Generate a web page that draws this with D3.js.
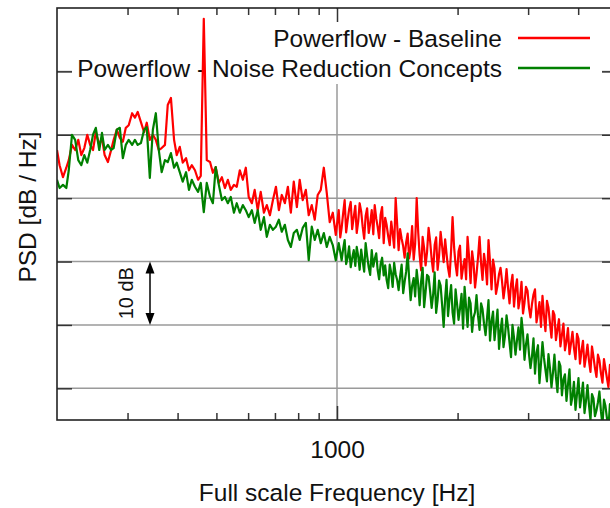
<!DOCTYPE html>
<html>
<head>
<meta charset="utf-8">
<script src="https://cdn.jsdelivr.net/npm/d3@7"></script>
<style>
  body { margin: 0; background: #fff; }
  svg { display: block; }
  text { font-family: "Liberation Sans", Arial, Helvetica, sans-serif; fill: #111; }
</style>
</head>
<body>
<svg id="chart" width="610" height="508"></svg>
<script>
// Spectrum frequencies [Hz]
const freqHz = [
  200, 203, 207, 211, 214, 218, 222, 226, 230, 234,
  238, 242, 246, 250, 255, 259, 263, 268, 273, 277,
  282, 287, 292, 297, 302, 308, 313, 318, 324, 330,
  335, 341, 347, 353, 359, 365, 372, 378, 385, 392,
  398, 405, 412, 420, 427, 434, 442, 450, 457, 465,
  473, 482, 490, 498, 507, 516, 525, 534, 543, 553,
  562, 572, 582, 592, 602, 613, 623, 634, 645, 657,
  668, 680, 692, 704, 716, 728, 741, 754, 767, 780,
  794, 807, 821, 836, 850, 865, 880, 895, 911, 927,
  943, 959, 976, 993,
  1010, 1019, 1027, 1036, 1045, 1054, 1063, 1072, 1082, 1091,
  1101, 1111, 1120, 1130, 1139, 1149, 1159, 1169, 1179, 1189,
  1200, 1210, 1221, 1232, 1242, 1253, 1263, 1274, 1285, 1296,
  1308, 1319, 1330, 1342, 1354, 1366, 1377, 1389, 1401, 1413,
  1425, 1437, 1450, 1463, 1475, 1488, 1501, 1514, 1527, 1540,
  1554, 1567, 1581, 1595, 1608, 1622, 1636, 1650, 1664, 1678,
  1693, 1708, 1723, 1738, 1753, 1768, 1783, 1798, 1814, 1830,
  1846, 1862, 1877, 1893, 1910, 1927, 1943, 1960, 1977, 1994,
  2011, 2028, 2046, 2064, 2082, 2100, 2118, 2136, 2155, 2174,
  2192, 2211, 2230, 2249, 2269, 2289, 2308, 2328, 2349, 2369,
  2389, 2410, 2431, 2452, 2473, 2494, 2516, 2538, 2560, 2582,
  2604, 2627, 2650, 2673, 2696, 2719, 2742, 2766, 2790, 2814,
  2838, 2863, 2888, 2913, 2938, 2963, 2989, 3015, 3041, 3067,
  3094, 3121, 3148, 3175, 3202, 3230, 3258, 3286, 3314, 3343,
  3372, 3401, 3431, 3461, 3490, 3520, 3551, 3582, 3612, 3643,
  3675, 3707, 3740, 3772, 3805, 3838, 3871, 3904, 3939, 3973,
  4007, 4042, 4077, 4112, 4148, 4184, 4220, 4257, 4293, 4330,
  4367, 4405, 4443, 4481, 4520, 4559, 4599, 4639, 4679, 4719,
  4760, 4801, 4843, 4885, 4927, 4970, 5013
];

// PSD, baseline configuration [dB / Hz, relative]
const baselineDb = [
  37.6, 35.2, 33.3, 34.8, 36.0, 38.4, 37.6, 39.2, 36.8, 37.9,
  40.0, 38.4, 37.6, 40.4, 38.4, 39.5, 36.8, 35.7, 37.6, 39.2,
  40.8, 39.5, 38.9, 41.1, 41.5, 43.4, 42.7, 43.6, 42.0, 40.4,
  41.9, 39.2, 40.0, 39.2, 37.6, 37.9, 38.4, 44.7, 45.8, 39.2,
  36.8, 38.1, 35.6, 36.3, 34.4, 35.2, 34.4, 32.9, 33.5, 58.3,
  36.0, 35.7, 34.0, 34.9, 32.4, 33.3, 31.6, 32.9, 31.3, 32.1,
  31.8, 34.4, 32.9, 34.8, 30.2, 29.2, 31.3, 28.1, 31.0, 27.7,
  28.9, 27.3, 29.7, 31.8, 28.1, 30.5, 29.2, 31.8, 27.7, 32.6,
  28.6, 32.9, 29.7, 31.3, 27.3, 28.9, 26.6, 30.5, 31.3, 34.8,
  30.8, 26.2, 27.7, 24.2,
  28.1, 23.8, 25.3, 27.6, 29.7, 24.6, 26.5, 28.2, 29.4, 25.1,
  27.0, 28.8, 24.5, 26.4, 29.2, 27.9, 25.5, 23.6, 27.2, 28.4,
  24.5, 26.0, 28.1, 24.3, 28.9, 26.8, 25.5, 23.7, 27.4, 28.6,
  22.9, 26.9, 25.8, 24.0, 22.6, 26.3, 24.5, 22.2, 30.0, 25.9,
  21.8, 25.1, 23.6, 22.4, 20.6, 23.0, 24.4, 20.5, 22.0, 25.6,
  20.3, 22.8, 30.0, 24.6, 21.0, 18.6, 23.9, 22.1, 19.4, 21.5,
  25.3, 23.2, 20.4, 18.4, 22.6, 23.8, 18.7, 20.9, 24.7, 22.4,
  19.9, 23.5, 21.2, 19.0, 17.6, 21.8, 27.0, 22.3, 19.5, 17.8,
  21.6, 22.5, 17.3, 19.1, 20.4, 17.2, 23.9, 20.8, 16.6, 21.6,
  19.8, 15.9, 18.0, 20.6, 23.9, 19.7, 17.1, 21.2, 19.4, 16.4,
  23.4, 19.9, 15.6, 20.3, 18.9, 14.9, 16.2, 18.0, 19.0, 16.9,
  14.2, 16.1, 18.8, 15.8, 13.4, 16.4, 17.9, 12.9, 15.6, 17.2,
  12.6, 14.1, 16.8, 11.8, 13.5, 16.0, 15.4, 12.7, 11.2, 13.3,
  14.8, 15.6, 10.4, 11.9, 13.6, 9.7, 14.6, 11.5, 9.0, 13.8,
  12.7, 10.3, 8.0, 12.2, 11.6, 7.6, 9.3, 10.9, 6.6, 8.4,
  10.2, 6.0, 7.4, 9.5, 5.4, 7.1, 8.9, 6.4, 4.6, 8.6,
  7.8, 3.9, 5.9, 7.5, 3.4, 5.0, 6.9, 4.3, 2.6, 6.6,
  5.0, 3.2, 1.8, 5.3, 4.4, 2.4, 0.9, 4.6, 3.1, 1.6,
  0.2, 3.7, 2.6, 0.7, -0.4, 2.0, 1.2
];

// PSD, noise reduction concepts [dB / Hz, relative]
const conceptsDb = [
  32.9, 31.6, 32.1, 31.6, 34.4, 40.0, 39.2, 36.0, 35.2, 36.8,
  35.6, 37.6, 40.0, 41.1, 37.6, 40.3, 37.6, 38.4, 37.6, 37.9,
  40.8, 41.1, 36.3, 38.4, 39.2, 38.4, 39.2, 38.4, 38.7, 40.8,
  41.2, 33.2, 40.8, 43.4, 37.6, 34.1, 36.0, 35.7, 37.1, 34.8,
  35.6, 34.1, 32.6, 34.1, 31.3, 32.9, 31.8, 31.0, 32.4, 27.8,
  32.4, 30.2, 29.2, 34.9, 32.1, 29.7, 30.2, 29.2, 30.2, 27.7,
  29.2, 27.7, 28.9, 28.1, 27.0, 28.1, 26.1, 28.1, 25.0, 27.0,
  23.9, 25.8, 25.0, 25.5, 26.6, 24.7, 25.8, 23.4, 22.3, 24.5,
  25.0, 23.4, 25.3, 26.1, 20.2, 25.5, 23.4, 25.0, 22.9, 24.5,
  22.3, 23.9, 22.6, 20.2,
  22.9, 21.5, 20.2, 22.0, 23.4, 19.6, 20.6, 22.4, 19.1, 20.5,
  21.8, 19.3, 22.3, 20.8, 18.7, 21.9, 20.1, 18.4, 22.9, 20.9,
  19.1, 17.9, 21.8, 19.2, 20.4, 21.3, 18.7, 17.2, 19.6, 20.6,
  17.8, 19.4, 17.1, 15.8, 19.5, 18.2, 16.0, 19.8, 18.0, 17.1,
  15.5, 17.6, 19.5, 15.0, 16.8, 18.4, 21.3, 17.3, 13.9, 16.2,
  17.4, 14.5, 18.7, 16.4, 13.1, 16.9, 19.0, 12.8, 15.2, 17.9,
  17.6, 15.3, 12.7, 14.8, 18.3, 11.9, 13.9, 17.0, 16.2, 13.1,
  9.7, 14.2, 17.1, 11.4, 14.2, 16.3, 12.0, 10.2, 15.6, 13.3,
  10.8, 12.6, 14.9, 9.4, 16.0, 12.8, 9.7, 14.3, 13.4, 8.9,
  11.2, 12.0, 14.7, 11.5, 9.2, 13.4, 12.5, 10.2, 8.4, 11.1,
  13.9, 7.5, 10.6, 12.1, 7.6, 9.9, 12.4, 6.2, 9.1, 11.0,
  6.5, 8.3, 11.5, 9.6, 7.2, 4.9, 10.0, 8.0, 5.3, 7.6,
  9.6, 6.1, 11.1, 8.7, 4.5, 6.9, 8.5, 5.4, 3.2, 5.0,
  7.9, 2.3, 5.6, 6.8, 0.8, 3.9, 7.3, 4.8, 2.9, 1.1,
  5.4, 3.2, 0.2, 2.5, 5.3, 1.8, -0.6, 4.2, 3.5, -1.1,
  1.4, 2.2, -2.0, 0.6, 3.0, -2.6, -1.3, 1.0, -3.4, -0.9,
  1.6, -3.0, -1.2, 0.9, -3.9, -2.0, 0.5, -2.7, -5.0, -0.9,
  -1.6, -4.4, -3.5, -2.2, -0.5, -3.6, -5.8, -1.8, -2.8, -4.7,
  -6.3, -2.5, -3.6, -5.2, -6.6, -3.3, -4.0
];

const seriesNames = ["Powerflow - Baseline", "Powerflow - Noise Reduction Concepts"];
const seriesColors = ["#ff0000", "#008000"];
const xMajorTicks = [1000];
const xMinorTicks = [300, 400, 500, 600, 700, 800, 900, 2000, 3000, 4000];
const yTicksDb = [0, 10, 20, 30, 40, 50];
const scaleBarDb = [10, 20];
const scaleBarLabel = "10 dB";
const xTitle = "Full scale Frequency [Hz]";
const yTitle = "PSD [dB / Hz]";

// ---- layout ----
const plot = { left: 57, top: 8, right: 617, bottom: 420 };
const x = d3.scaleLog().domain([200, 5000]).range([plot.left, plot.right]);
const y = d3.scaleLinear().domain([-5, 60]).range([plot.bottom, plot.top]);

const svg = d3.select("#chart");
const gridColor = "#9a9a9a";
const tickColor = "#333";
const fontSize = 24.5;

svg.append("defs").append("clipPath").attr("id", "plotClip")
  .append("rect")
  .attr("x", plot.left).attr("y", plot.top)
  .attr("width", plot.right - plot.left).attr("height", plot.bottom - plot.top);

// grid
const grid = svg.append("g");
grid.selectAll("line.h").data(yTicksDb).join("line")
  .attr("x1", plot.left).attr("x2", plot.right)
  .attr("y1", d => y(d)).attr("y2", d => y(d))
  .attr("stroke", gridColor).attr("stroke-width", 1.5);
grid.selectAll("line.v").data(xMajorTicks).join("line")
  .attr("x1", d => x(d)).attr("x2", d => x(d))
  .attr("y1", plot.top).attr("y2", plot.bottom)
  .attr("stroke", gridColor).attr("stroke-width", 1.5);

// opaque key box
svg.append("rect")
  .attr("x", 72).attr("y", plot.top + 1)
  .attr("width", 530).attr("height", 75)
  .attr("fill", "#fff");

// axes (ticks pointing inward)
function styleAxis(g) {
  g.select(".domain").remove();
  g.selectAll(".tick line").attr("stroke", tickColor).attr("stroke-width", 1.5);
}
svg.append("g").attr("transform", `translate(0,${plot.bottom})`)
  .call(d3.axisBottom(x).tickValues(xMinorTicks).tickSize(-7).tickFormat(""))
  .call(styleAxis);
svg.append("g").attr("transform", `translate(0,${plot.bottom})`)
  .call(d3.axisBottom(x).tickValues(xMajorTicks).tickSize(-14).tickPadding(21).tickFormat(d3.format("d")))
  .call(styleAxis)
  .call(g => g.selectAll("text").attr("font-size", fontSize).attr("fill", "#111")
    .style("font-family", '"Liberation Sans", Arial, sans-serif'));
svg.append("g").attr("transform", `translate(0,${plot.top})`)
  .call(d3.axisTop(x).tickValues(xMinorTicks).tickSize(-7).tickFormat(""))
  .call(styleAxis);
svg.append("g").attr("transform", `translate(0,${plot.top})`)
  .call(d3.axisTop(x).tickValues(xMajorTicks).tickSize(-14).tickFormat(""))
  .call(styleAxis);
svg.append("g").attr("transform", `translate(${plot.left},0)`)
  .call(d3.axisLeft(y).tickValues(yTicksDb).tickSize(-15).tickFormat(""))
  .call(styleAxis);
svg.append("g").attr("transform", `translate(${plot.right},0)`)
  .call(d3.axisRight(y).tickValues(yTicksDb).tickSize(-15).tickFormat(""))
  .call(styleAxis);

// legend
const legend = svg.append("g");
seriesNames.forEach((name, i) => {
  const cy = 38 + i * 30;
  legend.append("text")
    .attr("x", 502).attr("y", cy + 8.5)
    .attr("text-anchor", "end").attr("font-size", fontSize)
    .text(name);
  legend.append("line")
    .attr("x1", 518).attr("x2", 590).attr("y1", cy).attr("y2", cy)
    .attr("stroke", seriesColors[i]).attr("stroke-width", 2.5);
});

// spectra
const series = [baselineDb, conceptsDb].map(vals => freqHz.map((f, i) => ({ f, v: vals[i] })));
const line = d3.line()
  .defined(d => d.v != null && !isNaN(d.v))
  .x(d => x(d.f)).y(d => y(d.v));
const lines = svg.append("g").attr("clip-path", "url(#plotClip)");
series.forEach((pts, i) => {
  lines.append("path")
    .datum(pts)
    .attr("d", line)
    .attr("fill", "none")
    .attr("stroke", seriesColors[i])
    .attr("stroke-width", 2.2)
    .attr("stroke-linejoin", "round");
});

// frame
svg.append("rect")
  .attr("x", plot.left).attr("y", plot.top)
  .attr("width", plot.right - plot.left).attr("height", plot.bottom - plot.top)
  .attr("fill", "none").attr("stroke", "#222").attr("stroke-width", 1.6);

// 10 dB scale bar
const barX = 150;
const yTop = y(scaleBarDb[1]), yBot = y(scaleBarDb[0]);
const bar = svg.append("g");
bar.append("line")
  .attr("x1", barX).attr("x2", barX).attr("y1", yTop + 6).attr("y2", yBot - 6)
  .attr("stroke", "#000").attr("stroke-width", 1.5);
bar.append("path")
  .attr("d", `M${barX},${yTop} L${barX - 4.5},${yTop + 12} L${barX + 4.5},${yTop + 12} Z`)
  .attr("fill", "#000");
bar.append("path")
  .attr("d", `M${barX},${yBot} L${barX - 4.5},${yBot - 12} L${barX + 4.5},${yBot - 12} Z`)
  .attr("fill", "#000");
bar.append("text")
  .attr("transform", `translate(133,${(yTop + yBot) / 2}) rotate(-90)`)
  .attr("text-anchor", "middle").attr("font-size", 20)
  .text(scaleBarLabel);

// axis titles
svg.append("text")
  .attr("x", (plot.left + plot.right) / 2).attr("y", 501)
  .attr("text-anchor", "middle").attr("font-size", fontSize)
  .text(xTitle);
svg.append("text")
  .attr("transform", `translate(36,207) rotate(-90)`)
  .attr("text-anchor", "middle").attr("font-size", fontSize)
  .text(yTitle);
</script>
</body>
</html>
